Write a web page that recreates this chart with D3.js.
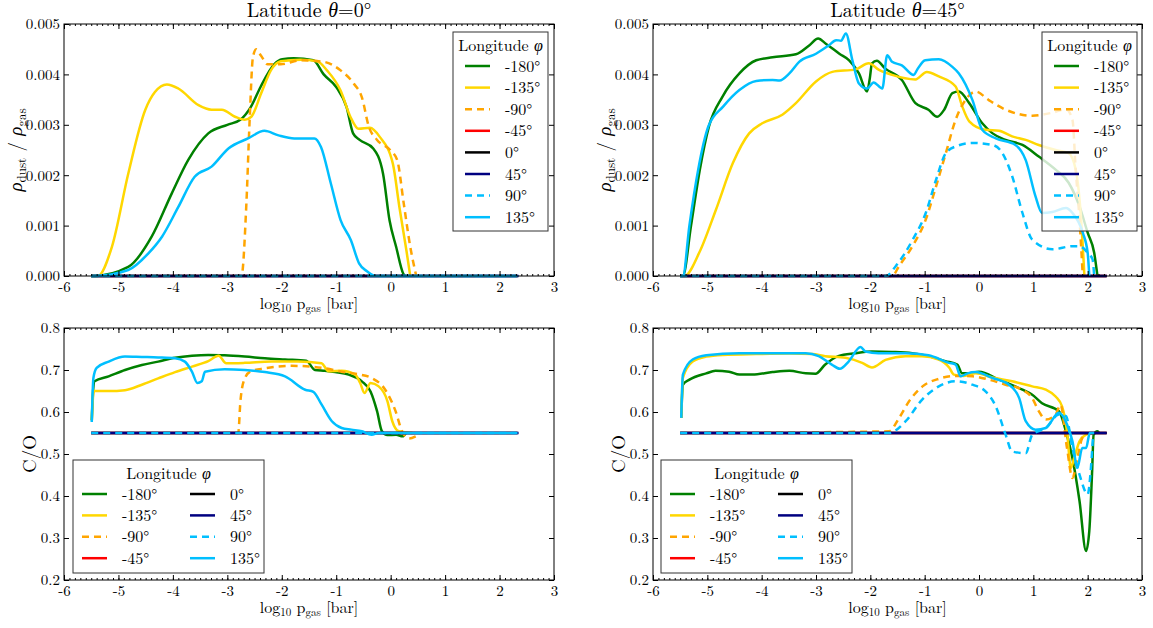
<!DOCTYPE html>
<html><head><meta charset="utf-8">
<script src="https://cdn.jsdelivr.net/npm/d3@7"></script>
<style>body{margin:0;background:#fff;}svg{display:block;}</style>
</head><body>
<script>
// ---------------- DATA ----------------
const xTicks = [-6,-5,-4,-3,-2,-1,0,1,2,3];
const dustTicks = [0,0.001,0.002,0.003,0.004,0.005];
const coTicks = [0.2,0.3,0.4,0.5,0.6,0.7,0.8];
const lonLabels = ["-180°","-135°","-90°","-45°","0°","45°","90°","135°"];
const latTitles = ["0°","45°"];

// rho_dust/rho_gas, latitude 0
const dust0_m180 = [[-5.5,0],[-5.45,0],[-4.82,0.00018],[-4.39,0.00078],[-4.02,0.00164],[-3.72,0.0023],[-3.35,0.00283],[-3.0,0.0030],[-2.76,0.0031],[-2.57,0.00335],[-2.39,0.00375],[-2.14,0.0042],[-1.99,0.0043],[-1.78,0.00432],[-1.42,0.00428],[-1.23,0.0040],[-1.0,0.00375],[-0.81,0.00335],[-0.69,0.00283],[-0.57,0.0027],[-0.32,0.00253],[-0.14,0.00203],[-0.02,0.0011],[0.10,0.00058],[0.23,0.00005],[0.26,0]];
const dust0_m135 = [[-5.5,0],[-5.38,0],[-5.12,0.00058],[-4.82,0.00203],[-4.51,0.00329],[-4.33,0.00365],[-4.11,0.0038],[-3.9,0.00372],[-3.53,0.00339],[-3.29,0.0033],[-3.1,0.0033],[-2.86,0.00316],[-2.68,0.0031],[-2.56,0.00316],[-2.38,0.00362],[-2.2,0.00408],[-2.02,0.00426],[-1.65,0.00429],[-1.35,0.00426],[-1.17,0.00408],[-0.92,0.00368],[-0.74,0.00316],[-0.59,0.00292],[-0.38,0.00294],[-0.2,0.00276],[0.04,0.00223],[0.16,0.00137],[0.29,0.0005],[0.36,0]];
const dust0_m90 = [[-5.5,0],[-2.74,0],[-2.65,0.00144],[-2.59,0.0031],[-2.53,0.00434],[-2.47,0.0045],[-2.38,0.00437],[-2.26,0.0042],[-2.02,0.0042],[-1.65,0.00428],[-1.23,0.00425],[-0.92,0.00408],[-0.68,0.00382],[-0.53,0.00355],[-0.4,0.00296],[-0.25,0.0027],[-0.01,0.0025],[0.12,0.0023],[0.24,0.00144],[0.36,0.00058],[0.47,0]];
const dust0_m45 = [[-5.5,0],[2.33,0]];
const dust0_0 = [[-5.5,0],[2.33,0]];
const dust0_45 = [[-5.5,0],[2.35,0]];
const dust0_90 = [[-5.5,0],[2.33,0]];
const dust0_135 = [[-5.5,0],[-5.45,0],[-4.82,0.00012],[-4.45,0.00045],[-4.2,0.00078],[-3.9,0.00137],[-3.6,0.00197],[-3.29,0.00217],[-2.98,0.00253],[-2.62,0.00273],[-2.32,0.00288],[-2.06,0.00279],[-1.77,0.00273],[-1.4,0.00273],[-1.28,0.00256],[-1.1,0.00184],[-0.92,0.00111],[-0.73,0.00071],[-0.58,0.00025],[-0.43,0.00009],[-0.28,0],[2.3,0]];

// rho_dust/rho_gas, latitude 45
const dust45_m180 = [[-5.5,0],[-5.45,0],[-5.3,0.001],[-5.14,0.0021],[-4.97,0.00297],[-4.72,0.00356],[-4.41,0.00402],[-4.1,0.00428],[-3.8,0.00434],[-3.37,0.0044],[-3.12,0.00458],[-2.96,0.00471],[-2.82,0.00461],[-2.57,0.00441],[-2.39,0.00428],[-2.21,0.00402],[-2.06,0.00366],[-2.01,0.00392],[-1.97,0.00422],[-1.88,0.00427],[-1.73,0.00412],[-1.42,0.00389],[-1.17,0.00343],[-0.93,0.0033],[-0.77,0.00316],[-0.64,0.0033],[-0.49,0.00363],[-0.37,0.00366],[-0.18,0.00343],[0.06,0.00303],[0.25,0.00283],[0.49,0.0027],[0.8,0.0026],[1.1,0.00237],[1.41,0.00211],[1.65,0.00185],[1.85,0.00138],[2.0,0.00086],[2.12,0.00046],[2.18,0]];
const dust45_m135 = [[-5.5,0],[-5.42,0],[-5.15,0.00046],[-4.84,0.00132],[-4.53,0.00224],[-4.23,0.00283],[-3.99,0.00303],[-3.62,0.0032],[-3.37,0.00343],[-3.0,0.00386],[-2.7,0.00405],[-2.27,0.0041],[-2.03,0.00422],[-1.84,0.00409],[-1.6,0.00399],[-1.17,0.0039],[-0.96,0.00405],[-0.74,0.00396],[-0.43,0.00376],[-0.31,0.00337],[-0.18,0.00307],[0.12,0.0029],[0.37,0.00288],[0.61,0.00277],[0.86,0.0027],[1.1,0.0026],[1.41,0.0025],[1.65,0.00244],[1.78,0.00211],[1.88,0.00112],[1.94,0]];
const dust45_m90 = [[-5.5,0],[-1.6,0],[-1.47,0.0002],[-1.22,0.0006],[-0.98,0.00112],[-0.79,0.00178],[-0.61,0.00244],[-0.43,0.0031],[-0.25,0.00349],[-0.06,0.00366],[0.18,0.00349],[0.49,0.0033],[0.98,0.00318],[1.35,0.00324],[1.6,0.00331],[1.72,0.0031],[1.78,0.00211],[1.85,0.00112],[1.91,0]];
const dust45_m45 = [[-5.5,0],[2.35,0]];
const dust45_0 = [[-5.5,0],[2.35,0]];
const dust45_45 = [[-5.5,0],[2.35,0]];
const dust45_90 = [[-5.5,0],[-1.71,0],[-1.53,0.0002],[-1.22,0.00072],[-0.98,0.00125],[-0.79,0.00191],[-0.61,0.00244],[-0.43,0.00257],[-0.12,0.00264],[0.25,0.0026],[0.43,0.00244],[0.61,0.00198],[0.8,0.00125],[0.98,0.00072],[1.35,0.00053],[1.72,0.00059],[1.85,0.00059],[2.0,0.00046],[2.09,0.00033],[2.12,0]];
const dust45_135 = [[-5.5,0],[-5.45,0],[-5.33,0.001],[-5.17,0.0021],[-4.98,0.00297],[-4.71,0.00336],[-4.41,0.00369],[-4.1,0.00387],[-3.8,0.00389],[-3.67,0.00388],[-3.49,0.00402],[-3.31,0.00425],[-3.0,0.00441],[-2.76,0.00458],[-2.63,0.00468],[-2.54,0.00467],[-2.45,0.00481],[-2.33,0.00428],[-2.21,0.00382],[-2.06,0.00372],[-1.94,0.00384],[-1.78,0.00372],[-1.69,0.00438],[-1.6,0.00425],[-1.42,0.00418],[-1.2,0.00399],[-1.14,0.00409],[-0.99,0.00428],[-0.74,0.0043],[-0.49,0.00415],[-0.37,0.00402],[-0.12,0.00349],[0.06,0.0029],[0.31,0.00273],[0.67,0.0026],[0.86,0.0023],[1.04,0.00158],[1.16,0.00125],[1.35,0.00127],[1.6,0.00135],[1.72,0.00125],[1.91,0.00086],[2.0,0.00046],[2.03,0]];

// C/O, latitude 0
const co0_m180 = [[-5.49,0.58],[-5.46,0.66],[-5.44,0.673],[-5.18,0.685],[-4.88,0.70],[-4.57,0.712],[-4.27,0.72],[-3.96,0.729],[-3.65,0.734],[-3.35,0.736],[-3.05,0.735],[-2.68,0.732],[-2.31,0.728],[-1.94,0.725],[-1.55,0.722],[-1.39,0.70],[-1.21,0.698],[-1.02,0.695],[-0.77,0.689],[-0.53,0.673],[-0.37,0.649],[-0.25,0.602],[-0.16,0.554],[-0.06,0.545],[0.1,0.546],[0.22,0.542],[0.28,0.55]];
const co0_m135 = [[-5.49,0.58],[-5.46,0.645],[-5.44,0.65],[-5.18,0.65],[-4.88,0.652],[-4.57,0.665],[-4.27,0.68],[-3.96,0.695],[-3.65,0.708],[-3.35,0.721],[-3.16,0.734],[-3.02,0.716],[-2.68,0.717],[-2.19,0.72],[-1.7,0.72],[-1.27,0.716],[-1.14,0.697],[-0.9,0.698],[-0.65,0.689],[-0.56,0.669],[-0.48,0.645],[-0.37,0.669],[-0.22,0.661],[-0.06,0.626],[0.03,0.578],[0.15,0.554],[0.28,0.552],[0.4,0.55]];
const co0_m90 = [[-5.5,0.55],[-2.8,0.55],[-2.76,0.625],[-2.7,0.673],[-2.58,0.696],[-2.31,0.704],[-1.82,0.71],[-1.45,0.708],[-1.21,0.704],[-0.9,0.696],[-0.6,0.69],[-0.35,0.681],[-0.1,0.653],[0.09,0.602],[0.21,0.554],[0.34,0.537],[0.46,0.542]];
const co0_m45 = [[-5.5,0.55],[2.33,0.55]];
const co0_0 = [[-5.5,0.55],[2.33,0.55]];
const co0_45 = [[-5.5,0.55],[2.35,0.55]];
const co0_90 = [[-5.5,0.55],[2.33,0.55]];
const co0_135 = [[-5.49,0.576],[-5.46,0.681],[-5.4,0.705],[-5.18,0.72],[-4.88,0.732],[-4.57,0.731],[-4.27,0.73],[-3.96,0.728],[-3.78,0.72],[-3.65,0.696],[-3.55,0.669],[-3.47,0.673],[-3.41,0.696],[-3.05,0.702],[-2.68,0.70],[-2.31,0.695],[-1.94,0.685],[-1.57,0.653],[-1.42,0.648],[-1.27,0.618],[-1.08,0.578],[-0.9,0.562],[-0.72,0.558],[-0.53,0.554],[-0.35,0.546],[-0.22,0.55],[2.3,0.55]];

// C/O, latitude 45
const co45_m180 = [[-5.48,0.586],[-5.45,0.665],[-5.33,0.677],[-5.02,0.692],[-4.85,0.698],[-4.6,0.696],[-4.41,0.689],[-4.17,0.689],[-3.8,0.695],[-3.49,0.698],[-3.19,0.692],[-3.01,0.691],[-2.83,0.713],[-2.59,0.733],[-2.28,0.74],[-1.97,0.744],[-1.6,0.743],[-1.23,0.74],[-0.93,0.733],[-0.62,0.721],[-0.4,0.713],[-0.31,0.692],[-0.18,0.692],[0.0,0.696],[0.37,0.677],[0.8,0.653],[0.98,0.641],[1.16,0.621],[1.47,0.602],[1.6,0.554],[1.72,0.49],[1.85,0.388],[1.97,0.269],[2.03,0.317],[2.08,0.452],[2.11,0.546],[2.18,0.554],[2.21,0.55]];
const co45_m135 = [[-5.48,0.586],[-5.45,0.681],[-5.27,0.72],[-5.02,0.732],[-4.71,0.736],[-4.1,0.738],[-3.49,0.739],[-3.07,0.738],[-2.83,0.733],[-2.46,0.729],[-2.15,0.717],[-1.97,0.706],[-1.72,0.724],[-1.35,0.733],[-1.05,0.733],[-0.74,0.725],[-0.55,0.706],[-0.46,0.689],[-0.28,0.686],[-0.06,0.692],[0.25,0.682],[0.61,0.673],[0.98,0.661],[1.23,0.653],[1.41,0.637],[1.53,0.613],[1.62,0.554],[1.69,0.467],[1.75,0.49],[1.85,0.53],[1.97,0.546],[2.09,0.55]];
const co45_m90 = [[-5.5,0.55],[-1.66,0.554],[-1.47,0.586],[-1.29,0.625],[-1.04,0.661],[-0.74,0.679],[-0.43,0.686],[-0.12,0.685],[0.18,0.677],[0.49,0.665],[0.8,0.653],[0.98,0.633],[1.1,0.602],[1.23,0.582],[1.41,0.594],[1.5,0.617],[1.62,0.514],[1.72,0.443],[1.81,0.49],[1.9,0.538],[1.99,0.55]];
const co45_m45 = [[-5.5,0.55],[2.35,0.55]];
const co45_0 = [[-5.5,0.55],[2.35,0.55]];
const co45_45 = [[-5.5,0.55],[2.35,0.55]];
const co45_90 = [[-5.5,0.55],[-1.66,0.55],[-1.35,0.578],[-1.05,0.629],[-0.74,0.661],[-0.43,0.673],[-0.12,0.665],[0.12,0.649],[0.31,0.613],[0.49,0.546],[0.61,0.506],[0.86,0.502],[0.98,0.546],[1.23,0.562],[1.47,0.594],[1.6,0.59],[1.72,0.514],[1.85,0.451],[2.0,0.404],[2.06,0.467],[2.1,0.546]];
const co45_135 = [[-5.48,0.586],[-5.45,0.689],[-5.27,0.725],[-5.02,0.735],[-4.41,0.74],[-3.8,0.74],[-3.19,0.74],[-2.95,0.733],[-2.71,0.713],[-2.56,0.703],[-2.4,0.72],[-2.18,0.755],[-2.09,0.744],[-1.85,0.74],[-1.35,0.74],[-0.93,0.735],[-0.55,0.717],[-0.43,0.713],[-0.34,0.685],[-0.21,0.692],[-0.06,0.695],[0.25,0.681],[0.55,0.665],[0.74,0.633],[0.86,0.578],[1.04,0.558],[1.23,0.562],[1.47,0.598],[1.62,0.57],[1.72,0.53],[1.81,0.467],[1.9,0.514],[1.97,0.514],[2.04,0.55],[2.12,0.55]];

// ---------------- STYLE / LAYOUT ----------------
const seriesStyle = [
  {color:"#008000", dash:null},
  {color:"#FFD700", dash:null},
  {color:"#FFA500", dash:"7,5"},
  {color:"#FF0000", dash:null},
  {color:"#000000", dash:null},
  {color:"#000080", dash:null},
  {color:"#00BFFF", dash:"7,5"},
  {color:"#00BFFF", dash:null}
];
const FONT = '"Latin Modern Roman", "Liberation Serif", serif';
const GREEK = '"Liberation Serif", serif';
const W = 1153, H = 628;

const panels = [
  {l:64, r:554, t:24, b:276, ydom:[0,0.005], yticks:dustTicks, fmt:d3.format(".3f"), kind:"dust", title:latTitles[0],
   data:[dust0_m180,dust0_m135,dust0_m90,dust0_m45,dust0_0,dust0_45,dust0_90,dust0_135],
   legend:{x:453, y:32, w:95, h:199, cols:1}, ylabX:15},
  {l:653, r:1142, t:24, b:276, ydom:[0,0.005], yticks:dustTicks, fmt:d3.format(".3f"), kind:"dust", title:latTitles[1],
   data:[dust45_m180,dust45_m135,dust45_m90,dust45_m45,dust45_0,dust45_45,dust45_90,dust45_135],
   legend:{x:1042, y:32, w:95, h:199, cols:1}, ylabX:604},
  {l:64, r:554, t:328, b:580, ydom:[0.2,0.8], yticks:coTicks, fmt:d3.format(".1f"), kind:"co",
   data:[co0_m180,co0_m135,co0_m90,co0_m45,co0_0,co0_45,co0_90,co0_135],
   legend:{x:73, y:460, w:191, h:113, cols:2}, ylabX:29},
  {l:653, r:1142, t:328, b:580, ydom:[0.2,0.8], yticks:coTicks, fmt:d3.format(".1f"), kind:"co",
   data:[co45_m180,co45_m135,co45_m90,co45_m45,co45_0,co45_45,co45_90,co45_135],
   legend:{x:661, y:460, w:191, h:113, cols:2}, ylabX:618}
];

const svg = d3.select("body").append("svg").attr("width",W).attr("height",H);

panels.forEach((p,pi)=>{
  const x = d3.scaleLinear().domain([-6,3]).range([p.l,p.r]);
  const y = d3.scaleLinear().domain(p.ydom).range([p.b,p.t]);
  const g = svg.append("g");
  const clipId = "clip"+pi;
  svg.append("clipPath").attr("id",clipId).append("rect")
    .attr("x",p.l).attr("y",p.t-2).attr("width",p.r-p.l).attr("height",p.b-p.t+4);

  // lines
  const line = d3.line().x(d=>x(d[0])).y(d=>y(d[1])).curve(d3.curveMonotoneX);
  const lg = g.append("g").attr("clip-path",`url(#${clipId})`);
  p.data.forEach((s,i)=>{
    lg.append("path").attr("d",line(s)).attr("fill","none")
      .attr("stroke",seriesStyle[i].color).attr("stroke-width",2.5)
      .attr("stroke-dasharray",seriesStyle[i].dash)
      .attr("stroke-linejoin","round");
  });

  // axes
  const minor = d3.range(-60,31).map(v=>v/10);
  g.append("g").attr("transform",`translate(0,${p.b})`)
    .call(d3.axisBottom(x).tickValues(xTicks).tickSize(-5).tickPadding(5).tickFormat(d=>String(d)));
  g.append("g").attr("transform",`translate(0,${p.b})`)
    .call(d3.axisBottom(x).tickValues(minor).tickSize(-2).tickFormat(""));
  g.append("g").attr("transform",`translate(0,${p.t})`)
    .call(d3.axisTop(x).tickValues(xTicks).tickSize(-5).tickFormat(""));
  g.append("g").attr("transform",`translate(0,${p.t})`)
    .call(d3.axisTop(x).tickValues(minor).tickSize(-2).tickFormat(""));
  g.append("g").attr("transform",`translate(${p.l},0)`)
    .call(d3.axisLeft(y).tickValues(p.yticks).tickSize(-5).tickPadding(4).tickFormat(p.fmt));
  g.append("g").attr("transform",`translate(${p.r},0)`)
    .call(d3.axisRight(y).tickValues(p.yticks).tickSize(-5).tickFormat(""));
  g.selectAll(".domain").remove();
  g.selectAll(".tick line").attr("stroke","#000").attr("stroke-width",1);
  g.selectAll(".tick text").attr("font-size",15).attr("fill","#000");
  g.append("rect").attr("x",p.l).attr("y",p.t).attr("width",p.r-p.l).attr("height",p.b-p.t)
    .attr("fill","none").attr("stroke","#000").attr("stroke-width",1);

  const cx = (p.l+p.r)/2;
  // x label
  const xl = g.append("text").attr("x",cx).attr("y",p.b+33).attr("text-anchor","middle").attr("font-size",16);
  xl.append("tspan").text("log");
  xl.append("tspan").attr("font-size",11).attr("dy",3).text("10");
  xl.append("tspan").attr("dy",-3).text(" p");
  xl.append("tspan").attr("font-size",11).attr("dy",3).text("gas");
  xl.append("tspan").attr("dy",-3).text(" [bar]");

  // y label
  const yc = (p.t+p.b)/2;
  const yl = g.append("text").attr("transform",`translate(${p.ylabX},${yc}) rotate(-90)`)
    .attr("text-anchor","middle").attr("font-size",19).attr("dy","0.35em");
  if(p.kind==="dust"){
    yl.append("tspan").attr("class","greek").attr("font-style","italic").text("ρ");
    yl.append("tspan").attr("font-size",13).attr("dy",4).text("dust");
    yl.append("tspan").attr("dy",-4).text(" / ");
    yl.append("tspan").attr("class","greek").attr("font-style","italic").text("ρ");
    yl.append("tspan").attr("font-size",13).attr("dy",4).text("gas");
  } else {
    yl.text("C/O");
  }

  // title
  if(p.title){
    const tt = g.append("text").attr("x",cx).attr("y",p.t-7).attr("text-anchor","middle").attr("font-size",20);
    tt.append("tspan").text("Latitude ");
    tt.append("tspan").attr("class","greek").attr("font-style","italic").text("θ");
    tt.append("tspan").text("=" + p.title);
  }

  // legend
  const L = p.legend;
  const lgd = g.append("g");
  lgd.append("rect").attr("x",L.x).attr("y",L.y).attr("width",L.w).attr("height",L.h)
    .attr("fill","#fff").attr("fill-opacity",0.8).attr("stroke","#333").attr("stroke-width",1);
  const lt = lgd.append("text").attr("x",L.x+L.w/2).attr("y",L.y+19).attr("text-anchor","middle").attr("font-size",16);
  lt.append("tspan").text("Longitude ");
  lt.append("tspan").attr("class","greek").attr("font-style","italic").text("φ");
  lonLabels.forEach((lab,i)=>{
    let lx, ly;
    if(L.cols===1){ lx = L.x+12; ly = L.y+34+i*21.6; }
    else { const c = Math.floor(i/4), r = i%4; lx = L.x+9+c*108; ly = L.y+34+r*21.4; }
    lgd.append("line").attr("x1",lx).attr("x2",lx+25).attr("y1",ly).attr("y2",ly)
      .attr("stroke",seriesStyle[i].color).attr("stroke-width",2.5)
      .attr("stroke-dasharray",seriesStyle[i].dash);
    lgd.append("text").attr("x",lx+40).attr("y",ly).attr("dy","0.35em").attr("font-size",16).text(lab);
  });
});
svg.selectAll("text").style("font-family",FONT);
svg.selectAll("tspan.greek").style("font-family",GREEK);
</script>
</body></html>
